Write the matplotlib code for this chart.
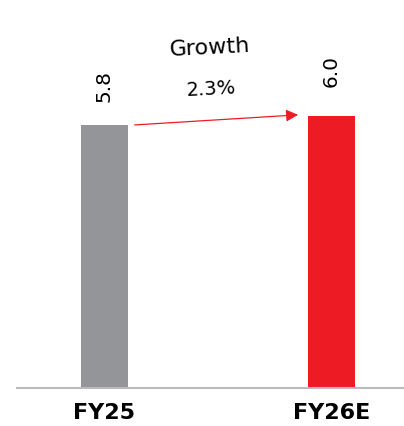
import matplotlib.pyplot as plt

# chart data
years = ['FY25', 'FY26E']
values = [5.8, 6.0]
value_labels = ['5.8', '6.0']
growth_label = '2.3%'
colors = ['#939598', '#ED1C24']

fig = plt.figure(figsize=(4.04, 4.26), dpi=100)
ax = fig.add_axes([17 / 404, 38 / 426, 387 / 404, 388 / 426])

x = [0, 1]
ax.bar(x, values, width=0.207, color=colors)

ax.set_xlim(-0.385, 1.319)
ax.set_ylim(0, 8.56)

# value labels (rotated)
ax.text(x[0], values[0] + 0.5, value_labels[0], rotation=90, ha='center', va='bottom', fontsize=14.5)
ax.text(x[1], values[1] + 0.65, value_labels[1], rotation=90, ha='center', va='bottom', fontsize=14.5)

# growth arrow
ax.annotate('', xy=(x[1] - 0.135, values[1] + 0.03), xytext=(x[0] + 0.121, values[0]),
            arrowprops=dict(arrowstyle='-|>', color='#ED1C24', lw=0.9, mutation_scale=18))
ax.text(0.465, 7.5, 'Growth', ha='center', va='center', fontsize=16, rotation=3)
ax.text(0.47, 6.6, growth_label, ha='center', va='center', fontsize=14, rotation=3)

ax.set_xticks(x)
ax.set_xticklabels(years, fontsize=16, fontweight='bold')
ax.tick_params(axis='x', length=0, pad=11)
ax.set_yticks([])
for s in ['top', 'right', 'left']:
    ax.spines[s].set_visible(False)
ax.spines['bottom'].set_color('#BBBBBD')
ax.spines['bottom'].set_linewidth(1.5)

fig.savefig('out.png', dpi=100)
